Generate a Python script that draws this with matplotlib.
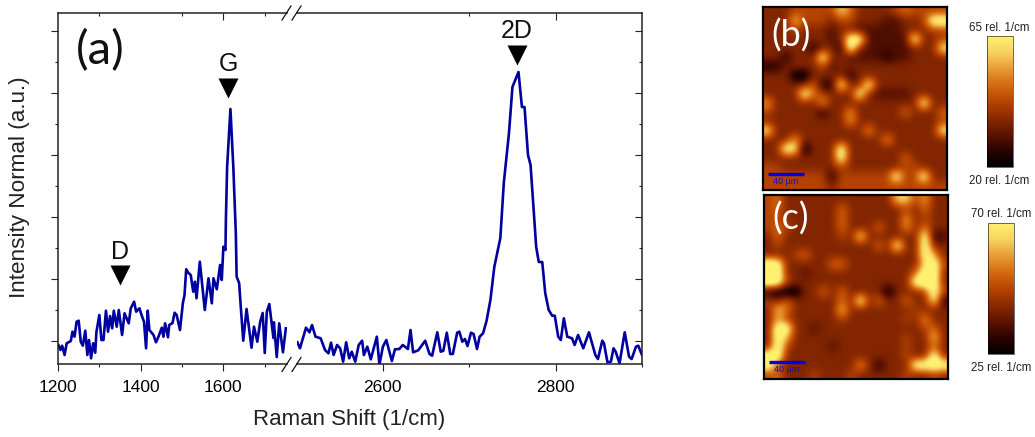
import matplotlib
matplotlib.use('Agg')
import matplotlib.pyplot as plt
from matplotlib.colors import LinearSegmentedColormap
from matplotlib.lines import Line2D
from matplotlib.ticker import MultipleLocator, FixedLocator, NullFormatter

W, H = 1035, 437

# Raman spectrum, low wavenumber side of the break
low_x = [1201, 1206, 1210, 1216, 1221, 1231, 1235, 1240, 1245, 1250, 1255, 1260, 1266, 1271, 1275,
         1280, 1285, 1290, 1293, 1300, 1305, 1310, 1316, 1321, 1326, 1331, 1335, 1342, 1347, 1355,
         1361, 1371, 1376, 1384, 1389, 1397, 1402, 1408, 1413, 1417, 1421, 1431, 1437, 1443, 1451,
         1455, 1459, 1466, 1469, 1477, 1482, 1487, 1495, 1502, 1506, 1510, 1515, 1521, 1527, 1531,
         1535, 1543, 1550, 1555, 1564, 1572, 1576, 1584, 1592, 1596, 1600, 1605, 1606, 1609, 1617,
         1624, 1630, 1632, 1638, 1642, 1648, 1656, 1668, 1674, 1682, 1689, 1695, 1700, 1705, 1711,
         1721, 1722, 1729, 1735, 1744, 1751]
low_y = [-4, -9, -4.7, -14, -2.3, 0, 9.3, 4.3, 19.3, 20.3, -0.7, -4.7, 10.3, -14, 1,
         -17.3, -2.3, -11.7, 9.3, 26, 1, 1, 30.3, 9.3, 25, 12.7, 30.3, 14.3, 31, 6,
         27.7, 17.7, 32.7, 39.3, 29.3, 32.7, 26, 19.3, -7.3, 30.3, 11, 6, -1.3, 4.3, 13.3,
         4.3, 17.7, 3.7, 16, 18, 28.3, 26, 11, 38, 46, 71.7, 68.3, 66, 49.3, 59.3,
         42.7, 79.3, 51, 31, 62.7, 37.7, 62.7, 51.7, 76, 61, 94.3, 91, 121, 174, 232,
         174, 108, 64.3, 58, 34.3, 0.3, 32, -6.7, 14.3, -0.7, 19.3, 28, -12, 29.3, 37,
         3, 18.7, -16, 17.7, -11.3, 12.7]

# high wavenumber side of the break
high_x = [2501, 2504, 2511, 2515, 2518, 2522, 2528, 2533, 2537, 2540, 2543, 2547, 2550.5, 2554, 2557.5,
          2561, 2564, 2568, 2572, 2576, 2578, 2582, 2586, 2593, 2596, 2600, 2604, 2610.4, 2614, 2619,
          2623, 2629, 2632, 2635, 2641, 2649, 2654, 2657, 2663, 2667, 2670, 2674, 2678, 2681, 2686,
          2688.5, 2692, 2695, 2698, 2702, 2705, 2709, 2712, 2716, 2720, 2724.5, 2729, 2736, 2740, 2746,
          2750, 2757, 2761, 2764, 2768, 2771, 2777.5, 2780.5, 2784.5, 2788, 2792, 2796, 2799, 2803, 2806,
          2809.5, 2813.5, 2819, 2822, 2826, 2832, 2838.6, 2846, 2849, 2854, 2856, 2860, 2864, 2867, 2869.5,
          2874, 2880, 2885, 2888, 2893, 2895.7, 2900]
high_y = [-1.3, -7.3, 13.3, 8.7, 16, 4.3, 2.7, -9, -12.3, -1.7, -14, -4, -7.3, -20.7, -1.3,
          -17.3, -10.7, -20.7, -4, 0.3, -14, -5.7, -18.3, 4.3, -23.7, -5.7, 1, -20, -8.3, -8,
          -4, -8, 11, -11.3, -9.3, 0.3, -13, -14.7, 8.7, -10.7, -9.7, 8.3, -13, -13, 8.3,
          9.3, -0.7, 2, -5, 8.3, 7, -8, 4.3, 7.7, 20, 41, 74, 103, 158, 208,
          254, 269, 234, 234, 186, 176, 94, 79, 79, 47.7, 31, 25.3, 25.3, 4.3, 1,
          22.7, 4.3, 2.7, -4, 6, -7.3, 8.7, -14, -18, 0.3, -2.3, -21.3, -20.7, -7.3, -10.7,
          -22.3, 8.7, -15.7, -18, -5.7, -4.7, -14]

# peak markers
peak_names = ['D', 'G', '2D']
peak_x = [1350, 1611, 2755]
peak_marker_y = [66, 253, 286]
peak_label_y = [89, 277, 310]

# maps, one digit per cell, 0 = bottom of colour scale, 9 = top
map_b_rows = [
    "33344444753333454444",
    "33374443443332233499",
    "33343332332222233344",
    "33333332399222229334",
    "33333133193222223338",
    "33133393322221223333",
    "11333342333333333333",
    "33300333313333333333",
    "33333511933933333333",
    "33339543339322223333",
    "63333363333333333933",
    "43333313363333353335",
    "33333333363333333334",
    "83333333333633333338",
    "33363333333336333333",
    "33980333933333333333",
    "33333333933333353333",
    "44333333433333344333",
    "44444441444444944933",
    "44444443444444444444",
]
map_c_rows = [
    "45333333333333774633",
    "45333333533333343533",
    "44333333533333363433",
    "45433333533353363533",
    "35333333438333333912",
    "34333333333353933933",
    "33345333333333333963",
    "99333335533333333794",
    "99332333333333335993",
    "99433333333333339993",
    "10003353533330333494",
    "43533333539353353381",
    "37533333733333334333",
    "36433333433333343633",
    "39933233333333333453",
    "39633333333333343373",
    "39433332333333343353",
    "99333333333333343393",
    "94333333336313339999",
    "45333433343333343343",
]
map_b_range = ['20 rel. 1/cm', '65 rel. 1/cm']
map_c_range = ['25 rel. 1/cm', '70 rel. 1/cm']

plt.rcParams['font.family'] = 'Liberation Sans'


def box(x0, y0, x1, y1):
    # pixel box (y from top) to figure fractions
    return [x0 / W, 1 - y1 / H, (x1 - x0) / W, (y1 - y0) / H]


fig = plt.figure(figsize=(W / 100, H / 100), dpi=100)
blue = '#0000a0'
dark = '#222222'

# ----- spectrum, two axes either side of the break -----
ax1 = fig.add_axes(box(58, 13, 287, 364.3))
ax2 = fig.add_axes(box(296.5, 13, 642, 364.3))
ax1.plot(low_x, low_y, color=blue, lw=1.9)
ax2.plot(high_x, high_y, color=blue, lw=1.9)
ax1.set_xlim(1200, 1753.8)
ax2.set_xlim(2500, 2900)

for ax in (ax1, ax2):
    ax.set_ylim(-23.3, 328)
    ax.yaxis.set_major_locator(MultipleLocator(62))
    ax.yaxis.set_minor_locator(MultipleLocator(31))
    ax.yaxis.set_major_formatter(NullFormatter())
    for s in ax.spines.values():
        s.set_linewidth(1.1)
        s.set_color(dark)
    ax.tick_params(axis='x', which='major', length=5, width=0.8, labelsize=12.5, color=dark, pad=6)
    ax.tick_params(axis='x', which='minor', length=2.5, width=0.8, color=dark)
    ax.tick_params(axis='y', which='major', length=5, width=0.8, color=dark)
    ax.tick_params(axis='y', which='minor', length=2.5, width=0.8, color=dark)

ax1.spines['right'].set_visible(False)
ax2.spines['left'].set_visible(False)
ax1.xaxis.set_major_locator(FixedLocator([1200, 1400, 1600]))
ax1.xaxis.set_minor_locator(FixedLocator([1300, 1500, 1700]))
ax2.xaxis.set_major_locator(FixedLocator([2600, 2800]))
ax2.xaxis.set_minor_locator(FixedLocator([2700, 2900]))
ax2.yaxis.tick_right()
ax2.yaxis.set_tick_params(which='both', direction='in')

# top side ticks point inwards
for ax, major, minor in ((ax1, [1600], [1300, 1500, 1700]), (ax2, [2800], [2700])):
    top = ax.twiny()
    top.set_xlim(ax.get_xlim())
    top.xaxis.set_major_locator(FixedLocator(major))
    top.xaxis.set_minor_locator(FixedLocator(minor))
    top.xaxis.set_major_formatter(NullFormatter())
    top.tick_params(which='major', direction='in', length=5, width=0.8, color=dark)
    top.tick_params(which='minor', direction='in', length=2.5, width=0.8, color=dark)
    for s in top.spines.values():
        s.set_visible(False)

# break marks
for cx in (286.5, 296.5):
    for cy in (13, 364.5):
        fig.add_artist(Line2D([(cx - 4.5) / W, (cx + 4.5) / W],
                              [1 - (cy + 7) / H, 1 - (cy - 7) / H],
                              color='#111111', lw=0.9))

# peak labels
for name, px, my, ly in zip(peak_names, peak_x, peak_marker_y, peak_label_y):
    ax = ax1 if px < 2000 else ax2
    ax.plot([px], [my], marker='v', ms=14, color='black', mec='none', clip_on=False)
    ax.text(px, ly, name, ha='center', va='center', fontsize=18, color='#111111')

fig.text(76 / W, 1 - 51 / H, '(a)', fontsize=34, family='Lato', va='center', color='#111111')
fig.text(349 / W, 1 - 420 / H, 'Raman Shift (1/cm)', ha='center', va='center', fontsize=16, color='#222222')
fig.text(20 / W, 1 - 187 / H, 'Intensity Normal (a.u.)', rotation=90, ha='center', va='center',
         fontsize=16.2, color='#222222')

# ----- maps -----
heat = LinearSegmentedColormap.from_list(
    'heat', ['#000000', '#2a0300', '#5e1300', '#8a2a00', '#b84400', '#d46a10', '#e89a35', '#f5d260', '#fff070'])


def draw_map(rows, frame, bar, labels, letter, letter_xy, scale_y, text_y, low_xy, high_xy):
    grid = [[int(c) for c in r] for r in rows]
    ax = fig.add_axes(box(*frame))
    im = ax.imshow(grid, cmap=heat, vmin=0.5, vmax=7.6, interpolation='bicubic',
                   extent=(0, 200, 200, 0), aspect='auto')
    ax.set_xticks([])
    ax.set_yticks([])
    for s in ax.spines.values():
        s.set_linewidth(1.6)
        s.set_color('black')
    ax.plot([5, 45], [scale_y, scale_y], color='#0000e0', lw=2.4, solid_capstyle='butt')
    ax.text(25, text_y, '40 µm', color='#1010c0', fontsize=6.5, ha='center', va='center')
    fig.text(letter_xy[0] / W, 1 - letter_xy[1] / H, letter, color='white', fontsize=26,
             family='Lato', ha='center', va='center')

    cax = fig.add_axes(box(*bar))
    cb = fig.colorbar(im, cax=cax, ticks=[])
    cb.outline.set_linewidth(0.4)
    fig.text(low_xy[0] / W, 1 - low_xy[1] / H, labels[0], fontsize=8.3, ha='center', va='center', color='#222222')
    fig.text(high_xy[0] / W, 1 - high_xy[1] / H, labels[1], fontsize=8.3, ha='center', va='center', color='#222222')


draw_map(map_b_rows, (763, 7, 947, 190), (986.7, 36, 1012.7, 166.7), map_b_range,
         '(b)', (791, 36), 182, 191, (999, 181), (999, 28))
draw_map(map_c_rows, (764, 195, 948, 379), (988.3, 223.3, 1014.3, 354), map_c_range,
         '(c)', (791, 219), 181, 190, (1001, 368), (1001, 214))

fig.savefig('out.png', dpi=100)
